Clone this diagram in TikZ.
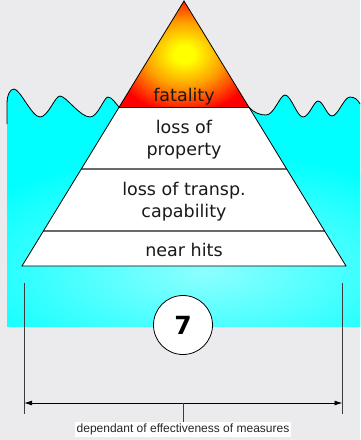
\documentclass[tikz,border=0pt]{standalone}
\usepackage{fontspec}
\setmainfont{DejaVu Sans}
\newfontfamily\smallfont{Liberation Sans}
\usetikzlibrary{arrows.meta}
\definecolor{bg}{RGB}{235,235,238}
\definecolor{water}{RGB}{0,255,255}
\definecolor{waterlight}{RGB}{140,255,255}
\definecolor{fyellow}{RGB}{255,255,0}
\definecolor{forange}{RGB}{255,160,0}
\definecolor{fred}{RGB}{255,0,0}
\definecolor{divgray}{RGB}{105,105,105}
\definecolor{dimgray}{RGB}{60,60,60}
\pgfdeclareradialshading{fatalshade}{\pgfpoint{0bp}{0bp}}{color(0bp)=(fyellow); color(4bp)=(fyellow); color(15bp)=(forange); color(28bp)=(fred); color(50bp)=(fred)}
\tikzset{
  layertext/.style={anchor=base, font=\fontsize{17.5}{21}\selectfont, text=black!90, inner sep=0pt},
  outline/.style={draw=black, line width=0.8pt},
  divider/.style={draw=divgray, line width=1.4pt},
  dimline/.style={draw=dimgray, line width=0.9pt},
  tip/.style={{Latex[length=8pt,width=5pt]}-{Latex[length=8pt,width=5pt]}}
}
\begin{document}
\begin{tikzpicture}[x=1pt,y=-1pt]
\fill[bg] (0,0) rectangle (360,440);
\useasboundingbox (0,0) rectangle (360,440);
% water
\fill[water] (7,326) -- (7,104)
  .. controls (7,95) and (10,89) .. (14,89)
  .. controls (20,89) and (32,117) .. (40,117)
  .. controls (48,117) and (55,96) .. (60,96)
  .. controls (66,96) and (80,117) .. (90,117)
  .. controls (98,117) and (104,97) .. (108,97)
  .. controls (112,97) and (116,104) .. (119,107)
  -- (249,107)
  .. controls (254,113) and (260,115) .. (266,115)
  .. controls (274,115) and (280,95) .. (285,95)
  .. controls (291,95) and (297,117) .. (303,117)
  .. controls (309,117) and (314,101) .. (318,101)
  .. controls (323,101) and (327,116) .. (332,116)
  .. controls (338,116) and (344,97) .. (350,97)
  .. controls (355,97) and (358,100) .. (360,104)
  -- (360,326) -- cycle;
\begin{scope}
\clip (7,118) rectangle (360,326);
\shade[inner color=waterlight, outer color=water] (205,272) ellipse (280 and 120);
\end{scope}
% wave outlines
\draw[outline] (7,124) -- (7,104)
  .. controls (7,95) and (10,89) .. (14,89)
  .. controls (20,89) and (32,117) .. (40,117)
  .. controls (48,117) and (55,96) .. (60,96)
  .. controls (66,96) and (80,117) .. (90,117)
  .. controls (98,117) and (104,97) .. (108,97)
  .. controls (112,97) and (116,104) .. (119,107);
\draw[outline] (249,107)
  .. controls (254,113) and (260,115) .. (266,115)
  .. controls (274,115) and (280,95) .. (285,95)
  .. controls (291,95) and (297,117) .. (303,117)
  .. controls (309,117) and (314,101) .. (318,101)
  .. controls (323,101) and (327,116) .. (332,116)
  .. controls (338,116) and (344,97) .. (350,97)
  .. controls (355,97) and (358,100) .. (360,104);
% pyramid
\shade[shading=fatalshade] (184,1) -- (119.2,107) -- (248.8,107) -- cycle;
\fill[white] (119.2,107) -- (248.8,107) -- (346,266) -- (22,266) -- cycle;
\draw[divider] (81.3,169) -- (286.7,169);
\draw[divider] (43.4,231) -- (324.6,231);
\draw[outline] (184,1) -- (346,266) -- (22,266) -- cycle;
\draw[outline] (119.2,107) -- (248.8,107);
% texts
\node[layertext] (fat) at (184,101) {fatality};
\node[layertext] (prop1) at (184,133) {loss of};
\node[layertext] (prop2) at (184,155) {property};
\node[layertext] (tr1) at (184,195) {loss of transp.};
\node[layertext] (tr2) at (184,217) {capability};
\node[layertext] (near) at (184,256) {near hits};
% circle
\node[circle, draw=black, line width=0.8pt, fill=white, minimum size=59pt, inner sep=0pt,
      font=\bfseries\fontsize{25}{25}\selectfont] (seven) at (183,325) {7};
% dimension
\coordinate (lt) at (24,283);
\coordinate (lb) at (24,414);
\coordinate (rt) at (342.5,283);
\coordinate (rb) at (342.5,414);
\coordinate (aL) at (24,403);
\coordinate (aR) at (342.5,403);
\coordinate (tk) at (183,403);
\draw[dimline] (lt) -- (lb);
\draw[dimline] (rt) -- (rb);
\draw[draw=black, line width=0.9pt, tip] (aL) -- (aR);
\node[fill=white, inner sep=1.5pt, font=\smallfont\fontsize{12}{12}\selectfont, text=black!85] (lbl) at (183,429.5) {dependant of effectiveness of measures};
\draw[dimline] (tk) -- (lbl.north);
\end{tikzpicture}
\end{document}
